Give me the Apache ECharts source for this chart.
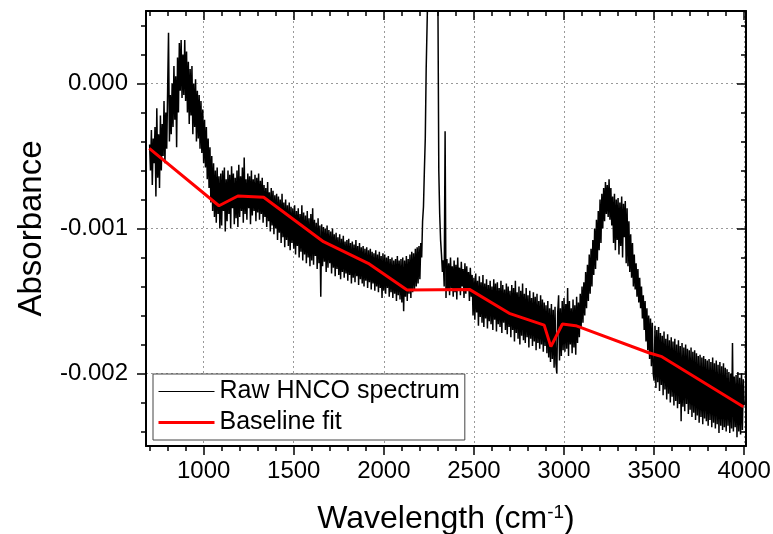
<!DOCTYPE html>
<html>
<head>
<meta charset="utf-8">
<script src="https://cdn.jsdelivr.net/npm/echarts@6/dist/echarts.min.js"></script>
<style>
  html, body { margin: 0; padding: 0; background: #fff; }
  #spectrum_chart { width: 773px; height: 534px; }
</style>
</head>
<body>
<div id="spectrum_chart"></div>
<script>
// wavenumber (cm-1) of the raw spectrum points
var rawWn = [
  700, 705, 710, 715, 720, 725, 730, 735, 740, 745, 750, 755, 760, 765, 770, 775, 780, 785, 790, 795,
  800, 805, 810, 815, 820, 825, 830, 835, 840, 845, 850, 855, 860, 865, 870, 875, 880, 885, 890, 895,
  900, 905, 910, 915, 920, 925, 930, 935, 940, 945, 950, 955, 960, 965, 970, 975, 980, 985, 990, 995,
  1000, 1005, 1010, 1015, 1020, 1025, 1030, 1035, 1040, 1045, 1050, 1055, 1060, 1065, 1070, 1075, 1080, 1085, 1090, 1095,
  1100, 1105, 1110, 1115, 1120, 1125, 1130, 1135, 1140, 1145, 1150, 1155, 1160, 1165, 1170, 1175, 1180, 1185, 1190, 1195,
  1200, 1205, 1210, 1215, 1220, 1225, 1230, 1235, 1240, 1245, 1250, 1255, 1260, 1265, 1270, 1275, 1280, 1285, 1290, 1295,
  1300, 1305, 1310, 1315, 1320, 1325, 1330, 1335, 1340, 1345, 1350, 1355, 1360, 1365, 1370, 1375, 1380, 1385, 1390, 1395,
  1400, 1405, 1410, 1415, 1420, 1425, 1430, 1435, 1440, 1445, 1450, 1455, 1460, 1465, 1470, 1475, 1480, 1485, 1490, 1495,
  1500, 1505, 1510, 1515, 1520, 1525, 1530, 1535, 1540, 1545, 1550, 1555, 1560, 1565, 1570, 1575, 1580, 1585, 1590, 1595,
  1600, 1605, 1610, 1615, 1620, 1625, 1630, 1635, 1640, 1645, 1650, 1655, 1660, 1665, 1670, 1675, 1680, 1685, 1690, 1695,
  1700, 1705, 1710, 1715, 1720, 1725, 1730, 1735, 1740, 1745, 1750, 1755, 1760, 1765, 1770, 1775, 1780, 1785, 1790, 1795,
  1800, 1805, 1810, 1815, 1820, 1825, 1830, 1835, 1840, 1845, 1850, 1855, 1860, 1865, 1870, 1875, 1880, 1885, 1890, 1895,
  1900, 1905, 1910, 1915, 1920, 1925, 1930, 1935, 1940, 1945, 1950, 1955, 1960, 1965, 1970, 1975, 1980, 1985, 1990, 1995,
  2000, 2005, 2010, 2015, 2020, 2025, 2030, 2035, 2040, 2045, 2050, 2055, 2060, 2065, 2070, 2075, 2080, 2085, 2090, 2095,
  2100, 2105, 2110, 2115, 2120, 2125, 2130, 2135, 2140, 2145, 2150, 2155, 2160, 2165, 2170, 2175, 2180, 2185, 2190, 2195,
  2200, 2205, 2210, 2215, 2220, 2225, 2230, 2235, 2240, 2245, 2250, 2255, 2260, 2265, 2270, 2275, 2280, 2285, 2290, 2295,
  2300, 2305, 2310, 2315, 2320, 2325, 2330, 2335, 2340, 2345, 2350, 2355, 2360, 2365, 2370, 2375, 2380, 2385, 2390, 2395,
  2400, 2405, 2410, 2415, 2420, 2425, 2430, 2435, 2440, 2445, 2450, 2455, 2460, 2465, 2470, 2475, 2480, 2485, 2490, 2495,
  2500, 2505, 2510, 2515, 2520, 2525, 2530, 2535, 2540, 2545, 2550, 2555, 2560, 2565, 2570, 2575, 2580, 2585, 2590, 2595,
  2600, 2605, 2610, 2615, 2620, 2625, 2630, 2635, 2640, 2645, 2650, 2655, 2660, 2665, 2670, 2675, 2680, 2685, 2690, 2695,
  2700, 2705, 2710, 2715, 2720, 2725, 2730, 2735, 2740, 2745, 2750, 2755, 2760, 2765, 2770, 2775, 2780, 2785, 2790, 2795,
  2800, 2805, 2810, 2815, 2820, 2825, 2830, 2835, 2840, 2845, 2850, 2855, 2860, 2865, 2870, 2875, 2880, 2885, 2890, 2895,
  2900, 2905, 2910, 2915, 2920, 2925, 2930, 2935, 2940, 2945, 2950, 2955, 2960, 2965, 2970, 2975, 2980, 2985, 2990, 2995,
  3000, 3005, 3010, 3015, 3020, 3025, 3030, 3035, 3040, 3045, 3050, 3055, 3060, 3065, 3070, 3075, 3080, 3085, 3090, 3095,
  3100, 3105, 3110, 3115, 3120, 3125, 3130, 3135, 3140, 3145, 3150, 3155, 3160, 3165, 3170, 3175, 3180, 3185, 3190, 3195,
  3200, 3205, 3210, 3215, 3220, 3225, 3230, 3235, 3240, 3245, 3250, 3255, 3260, 3265, 3270, 3275, 3280, 3285, 3290, 3295,
  3300, 3305, 3310, 3315, 3320, 3325, 3330, 3335, 3340, 3345, 3350, 3355, 3360, 3365, 3370, 3375, 3380, 3385, 3390, 3395,
  3400, 3405, 3410, 3415, 3420, 3425, 3430, 3435, 3440, 3445, 3450, 3455, 3460, 3465, 3470, 3475, 3480, 3485, 3490, 3495,
  3500, 3505, 3510, 3515, 3520, 3525, 3530, 3535, 3540, 3545, 3550, 3555, 3560, 3565, 3570, 3575, 3580, 3585, 3590, 3595,
  3600, 3605, 3610, 3615, 3620, 3625, 3630, 3635, 3640, 3645, 3650, 3655, 3660, 3665, 3670, 3675, 3680, 3685, 3690, 3695,
  3700, 3705, 3710, 3715, 3720, 3725, 3730, 3735, 3740, 3745, 3750, 3755, 3760, 3765, 3770, 3775, 3780, 3785, 3790, 3795,
  3800, 3805, 3810, 3815, 3820, 3825, 3830, 3835, 3840, 3845, 3850, 3855, 3860, 3865, 3870, 3875, 3880, 3885, 3890, 3895,
  3900, 3905, 3910, 3915, 3920, 3925, 3930, 3935, 3940, 3945, 3950, 3955, 3960, 3965, 3970, 3975, 3980, 3985, 3990, 3995,
  4000
];
// raw absorbance, in units of 1e-5
var rawAbs = [
  -42, -60, -32, -70, -38, -55, -30, -78, -17, -65, -35, -72, -22, -60, -28, -50, -12, -55, -20, -45,
  -5, 35, -40, -8, -35, 0, -30, 12, -25, 5, -44, 18, -20, 28, -5, 30, -10, 20, -8, 30,
  -12, 22, -20, 15, -28, 10, -22, 12, -35, 0, -30, 3, -40, -5, -38, -8, -45, -12, -48, -18,
  -55, -25, -58, -30, -66, -38, -72, -44, -82, -50, -88, -55, -92, -60, -96, -58, -90, -64, -100, -62,
  -98, -60, -88, -58, -102, -66, -95, -60, -90, -63, -100, -57, -86, -62, -97, -65, -93, -60, -99, -56,
  -92, -64, -88, -58, -96, -51, -90, -66, -94, -62, -86, -64, -97, -60, -91, -66, -88, -63, -95, -65,
  -89, -62, -94, -67, -90, -65, -96, -70, -92, -72, -99, -68, -95, -75, -102, -72, -98, -74, -104, -77,
  -100, -76, -108, -78, -103, -80, -110, -76, -106, -82, -113, -80, -108, -84, -112, -82, -115, -85, -110, -86,
  -114, -84, -118, -88, -112, -86, -120, -90, -116, -84, -122, -89, -118, -91, -124, -88, -120, -93, -126, -90,
  -122, -86, -125, -94, -119, -96, -128, -93, -124, -98, -147, -97, -126, -99, -123, -100, -130, -98, -127, -101,
  -124, -102, -131, -100, -127, -104, -133, -103, -128, -106, -132, -104, -135, -107, -130, -105, -134, -109, -131, -108,
  -136, -107, -132, -110, -138, -109, -134, -111, -137, -108, -133, -112, -139, -110, -135, -113, -138, -112, -140, -114,
  -136, -113, -141, -115, -137, -114, -142, -116, -138, -117, -143, -115, -140, -118, -144, -116, -141, -119, -148, -117,
  -143, -118, -145, -120, -141, -119, -147, -121, -144, -120, -148, -122, -145, -121, -150, -119, -146, -122, -149, -121,
  -151, -120, -157, -122, -147, -119, -150, -121, -145, -118, -148, -116, -144, -117, -142, -114, -140, -113, -138, -112,
  -135, -110, -120, -95, -85, -60, -38, 10, 40, 70, 110, 180, 230, 260, 280, 260, 240, 200, 160, 100,
  60, -60, -90, -108, -118, -130, -122, -140, -33, -148, -121, -143, -124, -146, -120, -141, -126, -147, -122, -144,
  -125, -149, -120, -143, -127, -146, -123, -140, -128, -148, -124, -145, -126, -142, -130, -150, -127, -147, -132, -160,
  -134, -163, -131, -158, -136, -167, -133, -161, -137, -165, -132, -168, -138, -162, -135, -169, -139, -164, -136, -166,
  -140, -170, -135, -163, -138, -171, -137, -166, -141, -168, -136, -172, -139, -165, -142, -170, -138, -173, -140, -168,
  -143, -175, -139, -170, -141, -178, -136, -172, -144, -176, -140, -180, -143, -174, -138, -177, -145, -179, -141, -175,
  -146, -182, -143, -176, -148, -181, -144, -178, -147, -184, -145, -179, -150, -183, -146, -180, -149, -185, -151, -181,
  -153, -186, -150, -189, -155, -192, -152, -190, -156, -196, -154, -193, -200, -158, -146, -191, -155, -188, -150, -184,
  -148, -185, -152, -183, -141, -188, -150, -180, -155, -186, -149, -182, -153, -187, -147, -179, -151, -175, -145, -168,
  -140, -165, -137, -160, -130, -155, -125, -150, -118, -145, -114, -140, -108, -132, -100, -128, -94, -122, -88, -115,
  -80, -110, -76, -100, -72, -95, -68, -90, -70, -92, -66, -94, -72, -98, -78, -110, -76, -115, -80, -108,
  -79, -118, -82, -112, -78, -120, -83, -106, -81, -124, -86, -126, -95, -130, -104, -134, -110, -140, -118, -142,
  -124, -147, -128, -151, -134, -155, -140, -162, -146, -170, -150, -178, -155, -184, -160, -190, -162, -195, -165, -200,
  -205, -167, -210, -170, -206, -168, -212, -172, -208, -174, -215, -171, -211, -176, -218, -173, -214, -177, -220, -175,
  -216, -178, -222, -176, -219, -180, -224, -177, -221, -181, -233, -179, -223, -182, -226, -180, -221, -183, -228, -184,
  -225, -182, -230, -185, -227, -184, -232, -186, -229, -188, -234, -187, -230, -189, -235, -188, -231, -190, -233, -191,
  -236, -190, -232, -192, -237, -189, -234, -193, -238, -191, -235, -194, -241, -192, -236, -195, -239, -193, -237, -196,
  -240, -197, -236, -199, -241, -200, -238, -179, -240, -202, -237, -201, -244, -199, -240, -203, -242, -200, -239, -204,
  -222
];
// baseline fit vertices
var baseWn = [698, 1085, 1190, 1333, 1665, 1913, 2129, 2475, 2696, 2890, 2927, 2991, 3065, 3470, 3543, 3995];
var baseAbs = [-0.000447, -0.000843, -0.000776, -0.000785, -0.001091, -0.00124, -0.001424, -0.001420,
               -0.001585, -0.001666, -0.001815, -0.001659, -0.00167, -0.001857, -0.001884, -0.002229];

// ticks
var xMajor = [1000, 1500, 2000, 2500, 3000, 3500, 4000];
var xMinor = [700, 800, 900, 1100, 1200, 1300, 1400, 1600, 1700, 1800, 1900, 2100, 2200, 2300, 2400,
              2600, 2700, 2800, 2900, 3100, 3200, 3300, 3400, 3600, 3700, 3800, 3900];
var yMajor = [-0.002, -0.001, 0];
var yMinor = [-0.0024, -0.0022, -0.0018, -0.0016, -0.0014, -0.0012, -0.0008, -0.0006, -0.0004, -0.0002, 0.0002, 0.0004];

var font = 'Liberation Sans, Arial, sans-serif';
var xMin = 680, xMax = 4010, yMin = -0.0025, yMax = 0.0005;

var rawData = rawWn.map(function (w, i) { return [w, rawAbs[i] * 1e-5]; });
var baseData = baseWn.map(function (w, i) { return [w, baseAbs[i]]; });

function xAxisOf(pos, ticks, len, inside, main) {
    return {
        type: 'value', min: xMin, max: xMax, position: pos,
        axisLine: { show: main, onZero: false, lineStyle: { color: '#000', width: 2 } },
        axisTick: { show: true, inside: inside, customValues: ticks, length: len, lineStyle: { color: '#000', width: 1.5 } },
        axisLabel: { show: false },
        splitLine: { show: false }
    };
}
function yAxisOf(pos, ticks, len, inside, main) {
    return {
        type: 'value', min: yMin, max: yMax, position: pos,
        axisLine: { show: main, onZero: false, lineStyle: { color: '#000', width: 2 } },
        axisTick: { show: true, inside: inside, customValues: ticks, length: len, lineStyle: { color: '#000', width: 1.5 } },
        axisLabel: { show: false },
        splitLine: { show: false }
    };
}

var bottomAxis = xAxisOf('bottom', xMajor, 9, false, true);
bottomAxis.axisLabel = {
    show: true, customValues: xMajor, fontSize: 24, color: '#000', fontFamily: font, margin: 13,
    formatter: function (v) { return String(v); }
};
bottomAxis.splitLine = { show: true, lineStyle: { color: '#999', width: 1, type: [2, 3] } };
bottomAxis.name = 'Wavelength (cm{sup|-1})';
bottomAxis.nameLocation = 'middle';
bottomAxis.nameGap = 57;
bottomAxis.nameTextStyle = {
    fontSize: 32, color: '#000', fontFamily: font,
    rich: { sup: { fontSize: 19, color: '#000', fontFamily: font, verticalAlign: 'top', padding: [0, 0, 14, 0] } }
};

var leftAxis = yAxisOf('left', yMajor, 9, false, true);
leftAxis.axisLabel = {
    show: true, customValues: yMajor, fontSize: 24, color: '#000', fontFamily: font, margin: 18,
    formatter: function (v) { return v.toFixed(3); }
};
leftAxis.splitLine = { show: true, lineStyle: { color: '#999', width: 1, type: [2, 3] } };
leftAxis.name = 'Absorbance';
leftAxis.nameLocation = 'middle';
leftAxis.nameGap = 98;
leftAxis.nameTextStyle = { fontSize: 33, color: '#000', fontFamily: font };

var spectrum_chart = echarts.init(document.getElementById('spectrum_chart'));
var spectrum_option = {
    animation: false,
    backgroundColor: '#fff',
    grid: { left: 146, right: 27, top: 11, bottom: 88, containLabel: false, outerBoundsMode: 'none' },
    legend: {
        orient: 'vertical', left: 153, top: 374,
        backgroundColor: '#fff', borderColor: '#444', borderWidth: 1,
        padding: [5, 5, 5, 4], itemGap: 6, itemWidth: 56, itemHeight: 14,
        itemStyle: { opacity: 0 },
        textStyle: { fontSize: 25, color: '#000', fontFamily: font },
        data: [
            { name: 'Raw HNCO spectrum', lineStyle: { width: 1 } },
            { name: 'Baseline fit', lineStyle: { width: 3 } }
        ]
    },
    xAxis: [
        bottomAxis,
        xAxisOf('bottom', xMinor, 5, false, false),
        xAxisOf('top', xMajor, 9, true, true),
        xAxisOf('top', xMinor, 5, true, false)
    ],
    yAxis: [
        leftAxis,
        yAxisOf('left', yMinor, 5, false, false),
        yAxisOf('right', yMajor, 9, true, true),
        yAxisOf('right', yMinor, 5, true, false)
    ],
    series: [
        {
            name: 'Raw HNCO spectrum', type: 'line', xAxisIndex: 0, yAxisIndex: 0,
            data: rawData, symbol: 'none', showSymbol: false,
            lineStyle: { color: '#000', width: 1.5 }, itemStyle: { color: '#000' }, z: 2
        },
        {
            name: 'Baseline fit', type: 'line', xAxisIndex: 0, yAxisIndex: 0,
            data: baseData, symbol: 'none', showSymbol: false,
            lineStyle: { color: '#ff0000', width: 3 }, itemStyle: { color: '#ff0000' }, z: 3
        }
    ]
};
spectrum_chart.setOption(spectrum_option);
</script>
</body>
</html>
